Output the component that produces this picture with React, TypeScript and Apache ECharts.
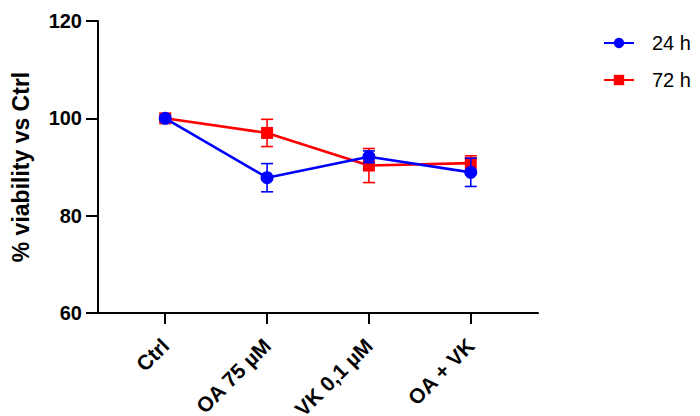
import React, { useEffect, useRef } from "react";
import * as echarts from "echarts";

const categories = ["Ctrl", "OA 75 µM", "VK 0,1 µM", "OA + VK"];
const mean24 = [100, 87.8, 92.1, 88.9];
const err24 = [0, 2.9, 1.2, 2.9];
const mean72 = [100, 97.0, 90.3, 90.8];
const err72 = [0, 2.8, 3.5, 1.5];
const yTicks = [60, 80, 100, 120];

const FONT = "Liberation Sans, Arial, sans-serif";
const BLUE = "#0000FF";
const RED = "#FF0000";

function errSeries(mean: number[], err: number[], color: string, z: number) {
  return {
    type: "custom",
    z,
    silent: true,
    data: mean.map((m, i) => [i, m, err[i]]),
    encode: { x: 0, y: 1 },
    renderItem: (params: any, api: any) => {
      const x = api.value(0);
      const y = api.value(1);
      const e = api.value(2);
      if (!e) return { type: "group", children: [] };
      const top = api.coord([x, y + e]);
      const bot = api.coord([x, y - e]);
      const hw = 6;
      const st = { stroke: color, lineWidth: 1.6 };
      return {
        type: "group",
        children: [
          { type: "line", shape: { x1: top[0], y1: top[1], x2: bot[0], y2: bot[1] }, style: st },
          { type: "line", shape: { x1: top[0] - hw, y1: top[1], x2: top[0] + hw, y2: top[1] }, style: st },
          { type: "line", shape: { x1: bot[0] - hw, y1: bot[1], x2: bot[0] + hw, y2: bot[1] }, style: st },
        ],
      };
    },
  };
}

export default function App() {
  const ref = useRef<HTMLDivElement>(null);
  useEffect(() => {
    if (!ref.current) return;
    const chart = echarts.init(ref.current, null, { renderer: "svg" });
    const idx = categories.map((_, i) => i);
    chart.setOption({
      animation: false,
      backgroundColor: "#fff",
      grid: { left: 98, right: 162, top: 21, bottom: 103, containLabel: false, outerBoundsMode: "none" },
      legend: {
        orient: "vertical",
        left: 603,
        top: 33,
        padding: 0,
        itemWidth: 30,
        itemHeight: 13,
        itemGap: 17,
        data: ["24 h", "72 h"],
        textStyle: { fontFamily: FONT, fontSize: 20, color: "#000", padding: [0, 0, 0, 13] },
      },
      xAxis: {
        type: "value",
        min: -0.66,
        max: 3.66,
        splitLine: { show: false },
        axisLine: { show: true, onZero: false, lineStyle: { color: "#000", width: 2 } },
        axisTick: { show: true, customValues: idx, length: 11, lineStyle: { color: "#000", width: 2 } },
        axisLabel: {
          customValues: idx,
          rotate: 45,
          margin: 29,
          fontFamily: FONT,
          fontWeight: "bold",
          fontSize: 21,
          color: "#000",
          formatter: (v: number) => categories[Math.round(v)] ?? "",
        },
      },
      yAxis: {
        type: "value",
        min: 60,
        max: 120,
        interval: 20,
        name: "% viability vs Ctrl",
        nameLocation: "middle",
        nameGap: 66,
        nameTextStyle: { fontFamily: FONT, fontWeight: "bold", fontSize: 23, color: "#000" },
        splitLine: { show: false },
        axisLine: { show: true, onZero: false, lineStyle: { color: "#000", width: 2 } },
        axisTick: { show: true, length: 12, lineStyle: { color: "#000", width: 2 } },
        axisLabel: {
          margin: 16,
          fontFamily: FONT,
          fontWeight: "bold",
          fontSize: 20,
          color: "#000",
          formatter: (v: number) => (yTicks.includes(v) ? String(v) : ""),
        },
      },
      series: [
        errSeries(mean72, err72, RED, 2),
        {
          name: "72 h",
          type: "line",
          z: 3,
          data: mean72.map((m, i) => [i, m]),
          symbol: "rect",
          symbolSize: 12,
          itemStyle: { color: RED },
          lineStyle: { color: RED, width: 2.6 },
        },
        errSeries(mean24, err24, BLUE, 4),
        {
          name: "24 h",
          type: "line",
          z: 5,
          data: mean24.map((m, i) => [i, m]),
          symbol: "circle",
          symbolSize: 13,
          itemStyle: { color: BLUE },
          lineStyle: { color: BLUE, width: 2.6 },
        },
      ],
    });
    return () => chart.dispose();
  }, []);
  return (
    <div
      ref={ref}
      style={{ position: "absolute", left: 0, top: 0, width: 700, height: 416 }}
    />
  );
}
